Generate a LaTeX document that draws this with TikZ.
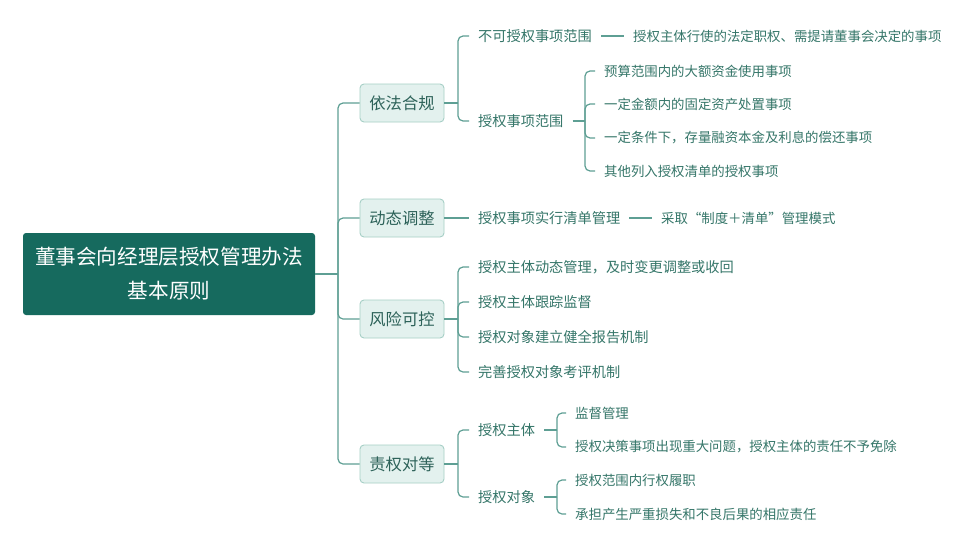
\documentclass[tikz,border=0pt]{standalone}
\usepackage{fontspec}
\setmainfont{Noto Sans CJK SC}
\definecolor{rootc}{HTML}{166A5E}
\definecolor{linec}{HTML}{5E9F94}
\definecolor{lonefill}{HTML}{E3F1EE}
\definecolor{lonedraw}{HTML}{A6CFC6}
\definecolor{lonetext}{HTML}{2D6259}
\definecolor{leaftext}{HTML}{357669}
\tikzset{
  conn/.style={draw=linec, line width=1.2pt},
  rc/.style={conn, rounded corners=5pt},
  rootbox/.style={fill=rootc, rounded corners=3pt, minimum width=292pt, minimum height=82pt,
    align=center, text=white, inner sep=0pt, font=\fontsize{20.6}{34}\selectfont},
  lone/.style={fill=lonefill, draw=lonedraw, line width=0.9pt, rounded corners=4pt,
    minimum width=84pt, minimum height=38pt, inner sep=0pt, text=lonetext,
    font=\fontsize{16.3}{18}\selectfont},
  ltwo/.style={anchor=west, inner xsep=9pt, inner ysep=1pt, xshift=-9pt, text=leaftext,
    font=\fontsize{14.2}{16}\selectfont},
  leaf/.style={anchor=west, inner xsep=9pt, inner ysep=1pt, xshift=-9pt, text=leaftext,
    font=\fontsize{13.4}{15}\selectfont}
}
\begin{document}
\begin{tikzpicture}[x=1pt,y=-1pt]
\useasboundingbox[fill=white] (0,0) rectangle (968,549);
% root
\node[rootbox] (root) at (169,274) {董事会向经理层授权管理办法\\基本原则};
\coordinate (s0) at (338,274);
% level 1
\node[lone] (la) at (402,103) {依法合规};
\node[lone] (lb) at (402,218) {动态调整};
\node[lone] (lc) at (402,319) {风险可控};
\node[lone] (ld) at (402,464) {责权对等};
\draw[conn] (root.east) -- (s0);
\draw[rc] (s0) |- (la.west);
\draw[rc] (s0) |- (lb.west);
\draw[rc] (s0) |- (lc.west);
\draw[rc] (s0) |- (ld.west);
% 依法合规
\coordinate (ja) at (458,103);
\node[ltwo] (a1) at (478,36) {不可授权事项范围};
\node[leaf] (a1d) at (633,36) {授权主体行使的法定职权、需提请董事会决定的事项};
\node[ltwo] (a2) at (478,121) {授权事项范围};
\draw[conn] (la.east) -- (ja);
\draw[rc] (ja) |- (a1.west);
\draw[rc] (ja) |- (a2.west);
\draw[conn] (a1.east) -- (a1d.west);
\coordinate (jb) at (585,121);
\node[leaf] (b1) at (604,71) {预算范围内的大额资金使用事项};
\node[leaf] (b2) at (604,104) {一定金额内的固定资产处置事项};
\node[leaf] (b3) at (604,138) {一定条件下，存量融资本金及利息的偿还事项};
\node[leaf] (b4) at (604,171) {其他列入授权清单的授权事项};
\draw[conn] (a2.east) -- (jb);
\draw[rc] (jb) |- (b1.west);
\draw[rc] (jb) |- (b2.west);
\draw[rc] (jb) |- (b3.west);
\draw[rc] (jb) |- (b4.west);
% 动态调整
\node[ltwo] (c1) at (478,218) {授权事项实行清单管理};
\node[leaf] (c1d) at (661,218) {采取“制度＋清单”管理模式};
\draw[conn] (lb.east) -- (c1.west);
\draw[conn] (c1.east) -- (c1d.west);
% 风险可控
\coordinate (jc) at (458,319);
\node[ltwo] (e1) at (478,267) {授权主体动态管理，及时变更调整或收回};
\node[ltwo] (e2) at (478,302) {授权主体跟踪监督};
\node[ltwo] (e3) at (478,337) {授权对象建立健全报告机制};
\node[ltwo] (e4) at (478,372) {完善授权对象考评机制};
\draw[conn] (lc.east) -- (jc);
\draw[rc] (jc) |- (e1.west);
\draw[rc] (jc) |- (e2.west);
\draw[rc] (jc) |- (e3.west);
\draw[rc] (jc) |- (e4.west);
% 责权对等
\coordinate (jd) at (458,464);
\node[ltwo] (d1) at (478,430) {授权主体};
\node[ltwo] (d2) at (478,497) {授权对象};
\draw[conn] (ld.east) -- (jd);
\draw[rc] (jd) |- (d1.west);
\draw[rc] (jd) |- (d2.west);
\coordinate (je) at (557,430);
\node[leaf] (f1) at (575,413) {监督管理};
\node[leaf] (f2) at (575,447) {授权决策事项出现重大问题，授权主体的责任不予免除};
\draw[conn] (d1.east) -- (je);
\draw[rc] (je) |- (f1.west);
\draw[rc] (je) |- (f2.west);
\coordinate (jf) at (557,497);
\node[leaf] (g1) at (575,480) {授权范围内行权履职};
\node[leaf] (g2) at (575,514) {承担产生严重损失和不良后果的相应责任};
\draw[conn] (d2.east) -- (jf);
\draw[rc] (jf) |- (g1.west);
\draw[rc] (jf) |- (g2.west);
\end{tikzpicture}
\end{document}
